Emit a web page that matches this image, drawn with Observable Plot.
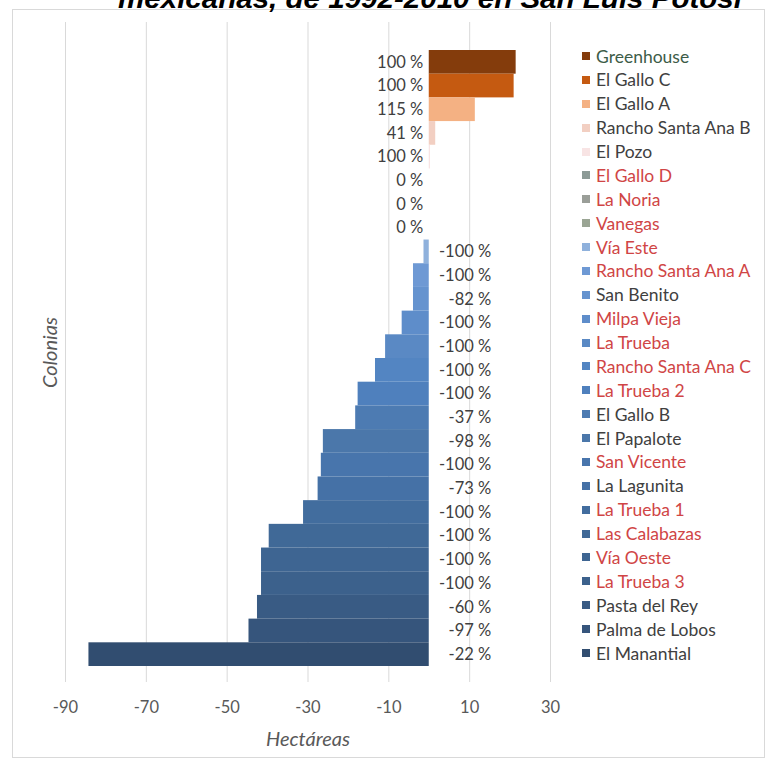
<!DOCTYPE html>
<html>
<head>
<meta charset="utf-8">
<script src="https://cdn.jsdelivr.net/npm/d3@7"></script>
<script src="https://cdn.jsdelivr.net/npm/@observablehq/plot@0.6"></script>
<style>
  html, body { margin: 0; padding: 0; background: #fff; }
  #page { position: relative; width: 775px; height: 772px; overflow: hidden; font-family: Lato, "Open Sans", sans-serif; }
  #marco { position: absolute; left: 12px; top: 9px; width: 753px; height: 749px; border: 1px solid #d9d9d9; box-sizing: border-box; }
  #titulo { position: absolute; left: 0; top: 0; }
  #grafica { position: absolute; left: 0; top: 0; }
  #leyenda { position: absolute; left: 0; top: 0; }
  .item { position: absolute; left: 582px; height: 20px; display: flex; align-items: center; white-space: nowrap; font-size: 17.5px; }
  .item .sw { width: 8px; height: 8px; margin-right: 6px; }
</style>
</head>
<body>
<div id="page">
  <div id="marco"></div>
  <svg id="titulo" width="775" height="12"></svg>
  <div id="grafica"></div>
  <div id="leyenda"></div>
</div>
<script>
// Colonias, in chart order (top to bottom)
const colonias = [
  "Greenhouse", "El Gallo C", "El Gallo A", "Rancho Santa Ana B", "El Pozo",
  "El Gallo D", "La Noria", "Vanegas", "Vía Este", "Rancho Santa Ana A",
  "San Benito", "Milpa Vieja", "La Trueba", "Rancho Santa Ana C", "La Trueba 2",
  "El Gallo B", "El Papalote", "San Vicente", "La Lagunita", "La Trueba 1",
  "Las Calabazas", "Vía Oeste", "La Trueba 3", "Pasta del Rey", "Palma de Lobos",
  "El Manantial"
];

// Change in area (hectáreas)
const hectareas = [
  21.5, 21.0, 11.4, 1.6, 0.3,
  0, 0, 0, -1.3, -3.9,
  -3.9, -6.7, -10.8, -13.3, -17.6,
  -18.2, -26.2, -26.7, -27.5, -31.1,
  -39.6, -41.5, -41.5, -42.5, -44.6,
  -84.2
];

// Relative change shown as the bar label (%)
const porcentajes = [
  100, 100, 115, 41, 100,
  0, 0, 0, -100, -100,
  -82, -100, -100, -100, -100,
  -37, -98, -100, -73, -100,
  -100, -100, -100, -60, -97,
  -22
];

// Fill of each colonia's bar / legend swatch
const colores = [
  "#843c0c", "#c55a11", "#f4b183", "#f2cfc2", "#f8e4e4",
  "#8c9a96", "#9a9e98", "#9aa594", "#8fb1dc", "#6e99d4",
  "#6593cf", "#5e8dca", "#5a89c4", "#5385c2", "#4f80bd",
  "#4d7bb2", "#4b77aa", "#4875ac", "#4571a6", "#426d9e",
  "#406997", "#3e6592", "#3c618c", "#395b84", "#36557c",
  "#314d70"
];

// Colour of each legend entry's name
const colorNombre = [
  "#3d5c48", "#404040", "#404040", "#404040", "#404040",
  "#d04545", "#d04545", "#d04545", "#d04545", "#d04545",
  "#404040", "#d04545", "#d04545", "#d04545", "#d04545",
  "#404040", "#404040", "#d04545", "#404040", "#d04545",
  "#d04545", "#d04545", "#d04545", "#404040", "#404040",
  "#404040"
];

const xTicks = [-90, -70, -50, -30, -10, 10, 30];

const titulo = "mexicanas, de 1992-2010 en San Luis Potosí";

const data = colonias.map((c, i) => ({
  colonia: c,
  ha: hectareas[i],
  pct: porcentajes[i],
  color: colores[i]
}));

const fmtPct = (p) => `${p} %`;

const chart = Plot.plot({
  width: 775,
  height: 772,
  marginTop: 22,
  marginBottom: 90,
  marginLeft: 65,
  marginRight: 225,
  style: { fontFamily: "Lato, 'Open Sans', sans-serif", background: "transparent" },
  x: { domain: [-90, 30], ticks: xTicks, label: null },
  y: { domain: colonias, padding: 0, round: false, insetTop: 28, insetBottom: 16, axis: null },
  marks: [
    Plot.ruleX(xTicks, { stroke: "#d9d9d9", strokeWidth: 1 }),
    Plot.barX(data, { x: "ha", y: "colonia", fill: "color" }),
    Plot.text(data.filter(d => d.ha >= 0), {
      x: () => 0, y: "colonia", text: d => fmtPct(d.pct),
      textAnchor: "end", dx: -6, fill: "#404040", fontSize: 16.5
    }),
    Plot.text(data.filter(d => d.ha < 0), {
      x: () => 0, y: "colonia", text: d => fmtPct(d.pct),
      textAnchor: "end", dx: 62, fill: "#404040", fontSize: 16.5
    }),
    Plot.axisX(xTicks, {
      tickSize: 0, tickPadding: 19, tickFormat: d => String(d),
      fill: "#595959", fontSize: 16.5, label: null
    }),
    Plot.text(["Hectáreas"], {
      frameAnchor: "bottom", dy: 63, text: d => d, textAnchor: "middle",
      fontStyle: "italic", fontSize: 20, fill: "#595959"
    }),
    Plot.text(["Colonias"], {
      frameAnchor: "left", dx: -15, rotate: -90, text: d => d, textAnchor: "middle",
      fontStyle: "italic", fontSize: 20, fill: "#595959"
    })
  ]
});
document.getElementById("grafica").append(chart);

// Title line
d3.select("#titulo").append("text")
  .attr("x", 118).attr("y", 7.5)
  .attr("font-family", "'Liberation Sans', Arial, sans-serif")
  .attr("font-weight", "bold").attr("font-style", "italic")
  .attr("font-size", 28)
  .attr("textLength", 624)
  .attr("lengthAdjust", "spacingAndGlyphs")
  .attr("fill", "#000")
  .text(titulo);

// Legend
const ley = d3.select("#leyenda");
colonias.forEach((c, i) => {
  const it = ley.append("div").attr("class", "item")
    .style("top", `${56 + 23.88 * i - 10}px`);
  it.append("div").attr("class", "sw").style("background", colores[i]);
  it.append("span").style("color", colorNombre[i]).text(c);
});
</script>
</body>
</html>
